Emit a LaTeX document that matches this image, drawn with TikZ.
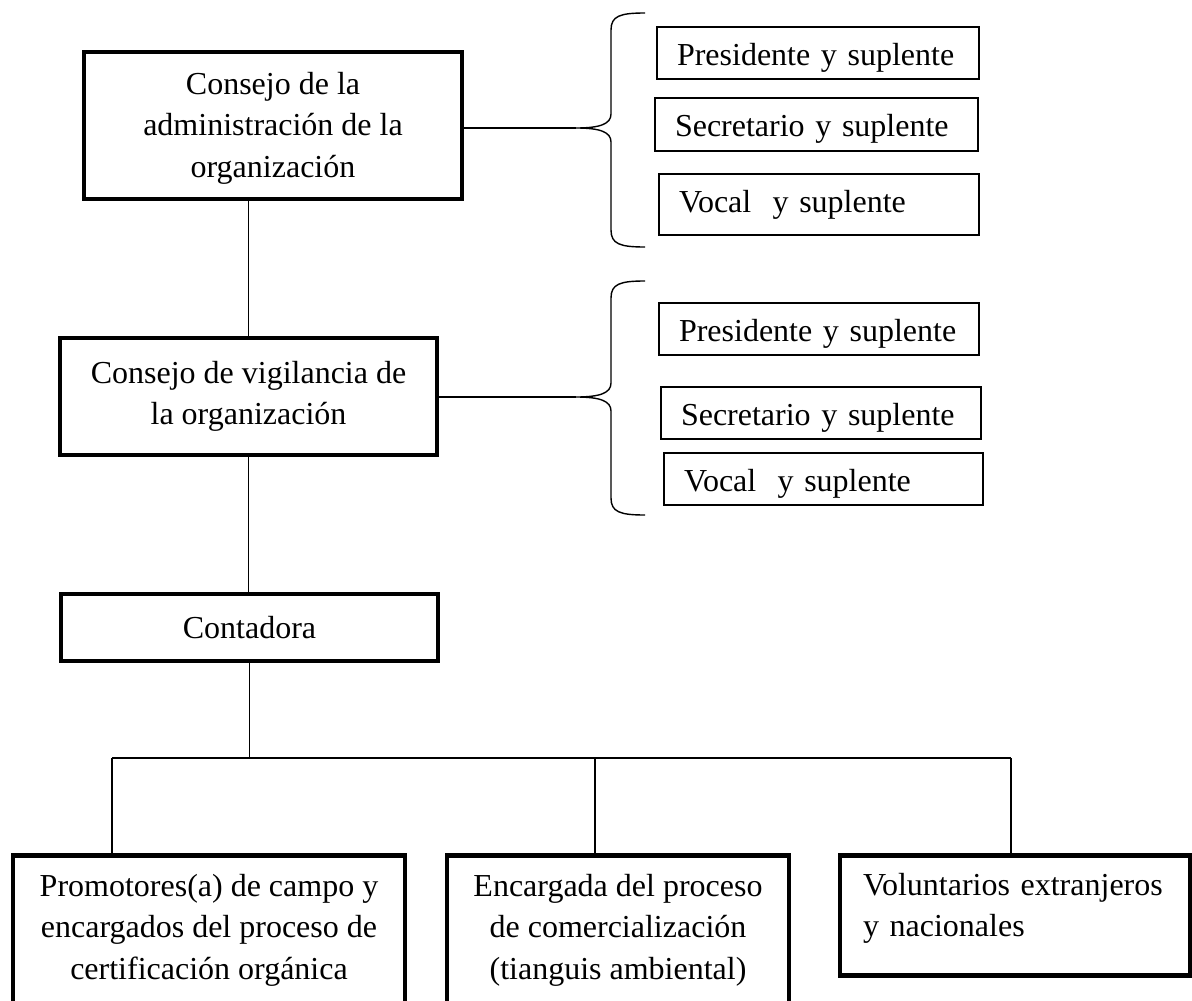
\documentclass[tikz,border=0pt]{standalone}
\usepackage{fontspec}
\setmainfont{Liberation Serif}
\usetikzlibrary{positioning}

\begin{document}
\begin{tikzpicture}[
    x=1pt, y=-1pt,
    font=\fontsize{32}{41.5}\selectfont
]
\tikzset{
    boxthick/.style = {rectangle, draw=black, line width=4.5pt, align=center, inner sep=0pt},
    boxthin/.style = {rectangle, draw=black, line width=1.3pt, align=left, inner xsep=20pt, inner ysep=0pt, text height=24pt, text depth=0pt},
    edgen/.style = {-, line width=1.4pt},
    brace/.style = {line width=1.4pt}
}
\clip (0,0) rectangle (1192,1001);
\node[boxthick, minimum width=378pt, minimum height=147pt, text height=110pt, text depth=7pt] at (273,125.5) (adm) {Consejo de la\\ administración de la\\ organización};
\node[boxthick, minimum width=377pt, minimum height=117pt] at (248.5,396.5) (vig) {Consejo de vigilancia de\\ la organización};
\node[boxthick, minimum width=377pt, minimum height=67pt] at (249.5,627.5) (cont) {Contadora};
\node[boxthick, minimum width=392pt, minimum height=150pt, anchor=north] at (209,853) (prom) {Promotores(a) de campo y\\ encargados del proceso de\\ certificación orgánica};
\node[boxthick, minimum width=342pt, minimum height=150pt, anchor=north] at (618,853) (enc) {Encargada del proceso\\ de comercialización\\ (tianguis ambiental)};
\node[boxthick, align=left, text width=304pt, inner xsep=23pt, minimum height=120pt, text height=22pt, text depth=62pt, anchor=north] at (1015,853) (vol) {Voluntarios extranjeros\\ y nacionales};
\node[boxthin, text width=282pt, minimum height=52pt] at (818,53) (pres1) {Presidente y suplente};
\node[boxthin, text width=283pt, minimum height=53pt] at (816.5,124.5) (secr1) {Secretario y suplente};
\node[boxthin, text width=280pt, minimum height=61pt, text height=15pt] at (819,204.5) (voc1) {Vocal\ \ y suplente};
\node[boxthin, text width=280pt, minimum height=52pt] at (819,329) (pres2) {Presidente y suplente};
\node[boxthin, text width=280pt, minimum height=52pt] at (821,413) (secr2) {Secretario y suplente};
\node[boxthin, text width=279pt, minimum height=52pt] at (823.5,479) (voc2) {Vocal\ \ y suplente};
\coordinate (brA) at (576,128);
\coordinate (brB) at (576,397);
\coordinate (busL) at (112,758);
\coordinate (busM) at (595,758);
\coordinate (busR) at (1011,758);
\draw[edgen] (vig.north |- adm.south) -- (vig.north);
\draw[edgen] (vig.south) -- (vig.south |- cont.north);
\draw[edgen] (cont.south) -- (cont.south |- busL);
\draw[edgen] (busL) -- (busR);
\draw[edgen] (busL) -- (busL |- prom.north);
\draw[edgen] (busM) -- (busM |- enc.north);
\draw[edgen] (busR) -- (busR |- vol.north);
\draw[edgen] (adm.east |- brA) -- (brA);
\draw[edgen] (vig.east |- brB) -- (brB);
\draw[brace] (645,13) .. controls (620,13) and (611,16) .. (611,30) -- (611,114)
    .. controls (611,124) and (600,128) .. (brA)
    .. controls (600,128) and (611,132) .. (611,142) -- (611,230)
    .. controls (611,244) and (620,247) .. (645,247);
\draw[brace] (645,281) .. controls (620,281) and (611,284) .. (611,298) -- (611,383)
    .. controls (611,393) and (600,397) .. (brB)
    .. controls (600,397) and (611,401) .. (611,411) -- (611,498)
    .. controls (611,512) and (620,515) .. (645,515);
\end{tikzpicture}
\end{document}
